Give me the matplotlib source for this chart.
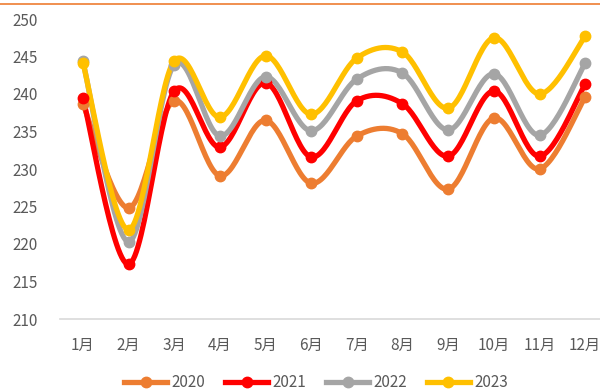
import numpy as np
import matplotlib.pyplot as plt
from matplotlib.lines import Line2D

plt.rcParams['font.family'] = ['Noto Sans CJK SC', 'DejaVu Sans']

months = ['1月', '2月', '3月', '4月', '5月', '6月', '7月', '8月', '9月', '10月', '11月', '12月']
years = ['2020', '2021', '2022', '2023']
v2020 = [238.7, 224.8, 239.1, 229.1, 236.5, 228.1, 234.4, 234.7, 227.3, 236.8, 230.0, 239.6]
v2021 = [239.5, 217.3, 240.4, 232.9, 241.5, 231.6, 239.1, 238.7, 231.7, 240.4, 231.7, 241.3]
v2022 = [244.4, 220.3, 243.9, 234.4, 242.3, 235.1, 242.0, 242.8, 235.2, 242.7, 234.5, 244.1]
v2023 = [244.2, 221.9, 244.4, 236.9, 245.1, 237.3, 244.8, 245.6, 238.1, 247.5, 240.0, 247.7]
colors = ['#ED7D31', '#FF0000', '#A5A5A5', '#FFC000']


def smooth(y, steps=30):
    # 平滑折线：Catmull-Rom 风格的三次贝塞尔
    y = np.asarray(y, dtype=float)
    x = np.arange(len(y), dtype=float)
    pts = np.column_stack([x, y])
    out = [pts[0]]
    t = np.linspace(0, 1, steps)[1:, None]
    for i in range(len(pts) - 1):
        p0 = pts[i - 1] if i > 0 else pts[i]
        p1, p2 = pts[i], pts[i + 1]
        p3 = pts[i + 2] if i + 2 < len(pts) else pts[i + 1]
        c1 = p1 + (p2 - p0) / 6
        c2 = p2 - (p3 - p1) / 6
        seg = ((1 - t) ** 3) * p1 + 3 * ((1 - t) ** 2) * t * c1 + 3 * (1 - t) * t ** 2 * c2 + t ** 3 * p2
        out.extend(seg)
    out = np.array(out)
    return out[:, 0], out[:, 1]


fig = plt.figure(figsize=(6, 3.91), dpi=100)
ax = fig.add_axes([60 / 600, 1 - 319 / 391, 548 / 600, 300 / 391])

for vals, c in zip([v2020, v2021, v2022, v2023], colors):
    sx, sy = smooth(vals)
    ax.plot(sx, sy, color=c, lw=3.8, solid_capstyle='round', zorder=2)
    ax.plot(range(len(vals)), vals, 'o', color=c, ms=7.5, zorder=3)

ax.set_xlim(-0.5, 11.5)
ax.set_ylim(210, 250)
ax.set_yticks(range(210, 251, 5))
ax.set_xticks(range(len(months)))
ax.set_xticklabels(months)
for s in ['top', 'right', 'left']:
    ax.spines[s].set_visible(False)
ax.spines['bottom'].set_color('#D9D9D9')
ax.spines['bottom'].set_linewidth(1.2)
ax.tick_params(axis='both', length=0, labelsize=11, labelcolor='#595959')
ax.tick_params(axis='y', pad=16)
ax.tick_params(axis='x', pad=13)

handles = [Line2D([0], [0], color=c, lw=3.8, marker='o', ms=7.5) for c in colors]
fig.legend(handles, years, loc='center', bbox_to_anchor=(0.527, 0.022), ncol=4, frameon=False,
           fontsize=11, labelcolor='#595959', handlelength=2.8, handletextpad=0.3, columnspacing=1.3,
           borderpad=0.1)

# 顶部的橙色细线
fig.add_artist(Line2D([0, 1], [1 - 3.5 / 391, 1 - 3.5 / 391], color='#ED7D31', lw=1.2))

fig.savefig('out.png', dpi=100)
